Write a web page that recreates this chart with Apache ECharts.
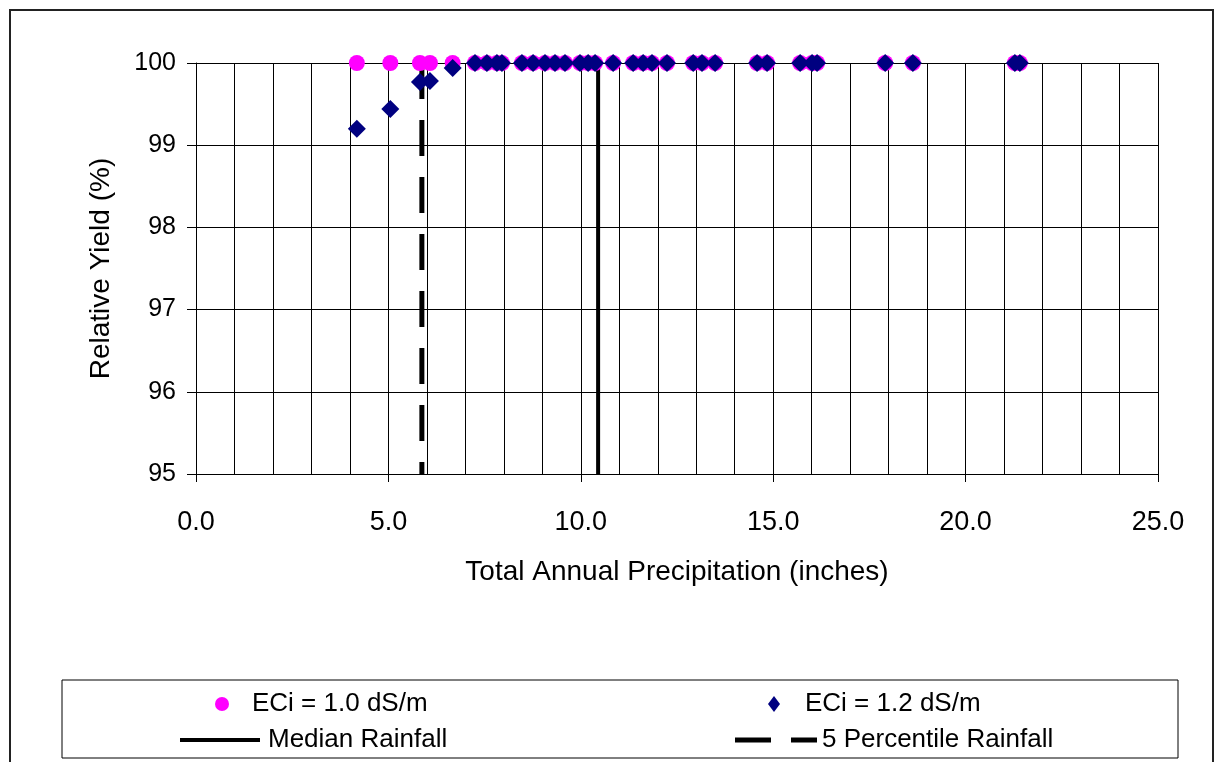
<!DOCTYPE html>
<html>
<head>
<meta charset="utf-8">
<script src="https://cdn.jsdelivr.net/npm/echarts@6/dist/echarts.min.js"></script>
<style>
  html, body { margin: 0; padding: 0; background: #fff; }
  #chart { width: 1219px; height: 762px; }
</style>
</head>
<body>
<div id="chart"></div>
<script>
// Total annual precipitation per year (inches)
const precipitation = [4.18, 5.05, 5.82, 6.08, 6.67, 7.25, 7.56, 7.82, 7.95, 8.47, 8.76,
  9.07, 9.33, 9.59, 9.98, 10.19, 10.37, 10.84, 11.36, 11.62, 11.85, 12.24, 12.92,
  13.15, 13.49, 14.58, 14.84, 15.70, 16.01, 16.14, 17.91, 18.63, 21.28, 21.41]
// relative yield (%) for each irrigation water salinity
const yieldEci10 = [100, 100, 100, 100, 100, 100, 100, 100, 100, 100, 100,
  100, 100, 100, 100, 100, 100, 100, 100, 100, 100, 100, 100,
  100, 100, 100, 100, 100, 100, 100, 100, 100, 100, 100]
const yieldEci12 = [99.20, 99.44, 99.77, 99.78, 99.94, 100, 100, 100, 100, 100, 100,
  100, 100, 100, 100, 100, 100, 100, 100, 100, 100, 100, 100,
  100, 100, 100, 100, 100, 100, 100, 100, 100, 100, 100]
const medianRainfall = 10.45
const percentile5Rainfall = 5.87
const yRange = [95, 100]
const xRange = [0, 25]

const font = 'Liberation Sans, Arial, sans-serif'
const chart = echarts.init(document.getElementById('chart'))

function legendItem(name, left, top, icon, w, h, gap) {
  return {
    data: [{ name: name, icon: icon }],
    left: left,
    top: top,
    padding: 0,
    itemWidth: w,
    itemHeight: h,
    selectedMode: false,
    textStyle: { fontFamily: font, fontSize: 26, color: '#000', lineHeight: 28, padding: [0, 0, 0, gap] }
  }
}

chart.setOption({
  animation: false,
  backgroundColor: '#fff',
  grid: { left: 196, right: 61, top: 63, bottom: 288 },
  graphic: [
    { type: 'rect', shape: { x: 10, y: 10, width: 1203, height: 820 },
      style: { fill: 'none', stroke: '#222', lineWidth: 2 }, silent: true },
    { type: 'rect', shape: { x: 62, y: 680, width: 1116, height: 78 },
      style: { fill: 'none', stroke: '#000', lineWidth: 1 }, silent: true }
  ],
  legend: [
    legendItem('ECi = 1.0 dS/m', 215, 690, 'circle', 14, 14, 18),
    legendItem('ECi = 1.2 dS/m', 768, 690, 'diamond', 12, 16, 20),
    legendItem('Median Rainfall', 180, 726, 'rect', 80, 4, 3),
    legendItem('5 Percentile Rainfall', 735, 726, 'path://M0,0h36v5h-36z M56,0h26v5h-26z', 82, 5, 0)
  ],
  xAxis: {
    type: 'value',
    min: xRange[0],
    max: xRange[1],
    interval: 5,
    name: 'Total Annual Precipitation (inches)',
    nameLocation: 'middle',
    nameGap: 84,
    nameTextStyle: { fontFamily: font, fontSize: 28, color: '#000' },
    axisLine: { lineStyle: { color: '#000', width: 1 } },
    axisTick: { show: true, length: 8, lineStyle: { color: '#000' } },
    axisLabel: { fontFamily: font, fontSize: 27, color: '#000', margin: 35,
      formatter: v => v.toFixed(1) },
    splitLine: { show: true, lineStyle: { color: '#000', width: 1 } },
    minorTick: { show: false, splitNumber: 5 },
    minorSplitLine: { show: true, lineStyle: { color: '#000', width: 1 } }
  },
  yAxis: {
    type: 'value',
    min: yRange[0],
    max: yRange[1],
    interval: 1,
    name: 'Relative Yield (%)',
    nameLocation: 'middle',
    nameGap: 81,
    nameTextStyle: { fontFamily: font, fontSize: 28, color: '#000' },
    axisLine: { show: true, lineStyle: { color: '#000', width: 1 } },
    axisTick: { show: true, length: 9, lineStyle: { color: '#000' } },
    axisLabel: { fontFamily: font, fontSize: 25, color: '#000', margin: 20 },
    splitLine: { show: true, lineStyle: { color: '#000', width: 1 } }
  },
  series: [
    {
      name: 'Median Rainfall',
      type: 'line',
      data: [[medianRainfall, yRange[0]], [medianRainfall, yRange[1]]],
      symbol: 'none',
      lineStyle: { color: '#000', width: 4 },
      itemStyle: { color: '#000' },
      z: 2
    },
    {
      name: '5 Percentile Rainfall',
      type: 'line',
      data: [[percentile5Rainfall, yRange[1]], [percentile5Rainfall, yRange[0]]],
      symbol: 'none',
      lineStyle: { color: '#000', width: 5, type: [36, 21] },
      itemStyle: { color: '#000' },
      z: 2
    },
    {
      name: 'ECi = 1.0 dS/m',
      type: 'scatter',
      data: precipitation.map((p, i) => [p, yieldEci10[i]]),
      symbol: 'circle',
      symbolSize: 16,
      itemStyle: { color: '#FF00FF', opacity: 1 },
      z: 3
    },
    {
      name: 'ECi = 1.2 dS/m',
      type: 'scatter',
      data: precipitation.map((p, i) => [p, yieldEci12[i]]),
      symbol: 'diamond',
      symbolSize: 18,
      itemStyle: { color: '#000080', opacity: 1 },
      z: 4
    }
  ]
})
</script>
</body>
</html>
